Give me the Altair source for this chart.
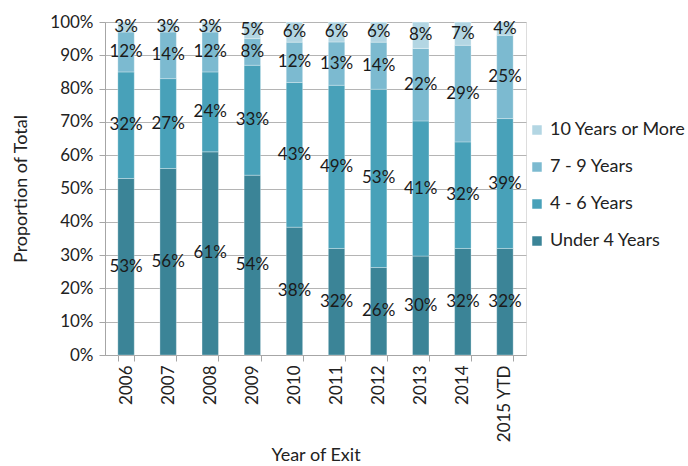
import altair as alt
import pandas as pd

years = ["2006", "2007", "2008", "2009", "2010", "2011", "2012", "2013", "2014", "2015 YTD"]
under4 = [53, 56, 61, 54, 38, 32, 26, 30, 32, 32]
four_six = [32, 27, 24, 33, 43, 49, 53, 41, 32, 39]
seven_nine = [12, 14, 12, 8, 12, 13, 14, 22, 29, 25]
ten_plus = [3, 3, 3, 5, 6, 6, 6, 8, 7, 4]

groups = ["Under 4 Years", "4 - 6 Years", "7 - 9 Years", "10 Years or More"]
colors = ["#3B8497", "#48A1B9", "#7CBAD0", "#B3D6E3"]
series = [under4, four_six, seven_nine, ten_plus]
ytick_values = [0.0, 0.1, 0.2, 0.3, 0.4, 0.5, 0.6, 0.7, 0.8, 0.9, 1.0]

rows = []
for gi, (g, vals) in enumerate(zip(groups, series)):
    for y, v in zip(years, vals):
        rows.append({"year": y, "group": g, "value": v, "ord": gi})
df = pd.DataFrame(rows)

FONT = "Lato"

base = alt.Chart(df).transform_joinaggregate(
    total="sum(value)", groupby=["year"]
).transform_calculate(
    frac="datum.value / datum.total"
).transform_stack(
    stack="frac", groupby=["year"], as_=["y0", "y1"], sort=[alt.SortField("ord", order="ascending")]
).transform_calculate(
    ymid="(datum.y0 + datum.y1) / 2",
    lbl="datum.value + '%'"
)

xaxis = alt.Axis(
    title="Year of Exit",
    labelAngle=-90,
    labelAlign="right",
    labelBaseline="middle",
    labelFont=FONT,
    labelFontSize=17,
    labelColor="#222222",
    labelPadding=4,
    titleFont=FONT,
    titleFontSize=18,
    titleFontWeight="normal",
    titleColor="#222222",
    titlePadding=4,
    tickBand="extent",
    tickSize=6,
    tickColor="#A6A6A6",
    domainColor="#A6A6A6",
    grid=False,
)
xscale = alt.Scale(paddingInner=0.61, paddingOuter=0.305)

yaxis = alt.Axis(
    title="Proportion of Total",
    format=".0%",
    values=ytick_values,
    labelOverlap=False,
    labelFont=FONT,
    labelFontSize=17,
    labelColor="#222222",
    labelPadding=6,
    titleFont=FONT,
    titleFontSize=18,
    titleFontWeight="normal",
    titleColor="#222222",
    titlePadding=19,
    tickSize=6,
    tickColor="#A6A6A6",
    domainColor="#A6A6A6",
    gridColor="#B4B4B4",
    gridWidth=1,
)
yscale = alt.Scale(domain=[0, 1])

bars = base.mark_bar(stroke="#ffffff", strokeWidth=0.6, strokeOpacity=0.5).encode(
    x=alt.X("year:N", sort=years, scale=xscale, axis=xaxis),
    y=alt.Y("y0:Q", scale=yscale, axis=yaxis),
    y2="y1:Q",
    color=alt.Color(
        "group:N",
        scale=alt.Scale(domain=groups[::-1], range=colors[::-1]),
        legend=alt.Legend(
            title=None,
            orient="none",
            legendX=423,
            legendY=99,
            symbolType="square",
            symbolSize=90,
            symbolStrokeWidth=0,
            labelFont=FONT,
            labelFontSize=18,
            labelColor="#222222",
            rowPadding=19,
            labelOffset=4,
        ),
    ),
)

texts = base.mark_text(font=FONT, fontSize=17, color="#1a1a1a", baseline="middle").encode(
    x=alt.X("year:N", sort=years, scale=xscale, axis=xaxis),
    y=alt.Y("ymid:Q", scale=yscale, axis=yaxis),
    text="lbl:N",
)

chart = alt.layer(bars, texts).properties(
    width=421,
    height=333,
    autosize=alt.AutoSizeParams(type="none"),
    padding={"left": 105, "top": 22, "right": 162, "bottom": 111},
).configure_view(stroke=None).configure(background="white")

chart.save("out.html", embed_options={"renderer": "svg", "actions": False})
